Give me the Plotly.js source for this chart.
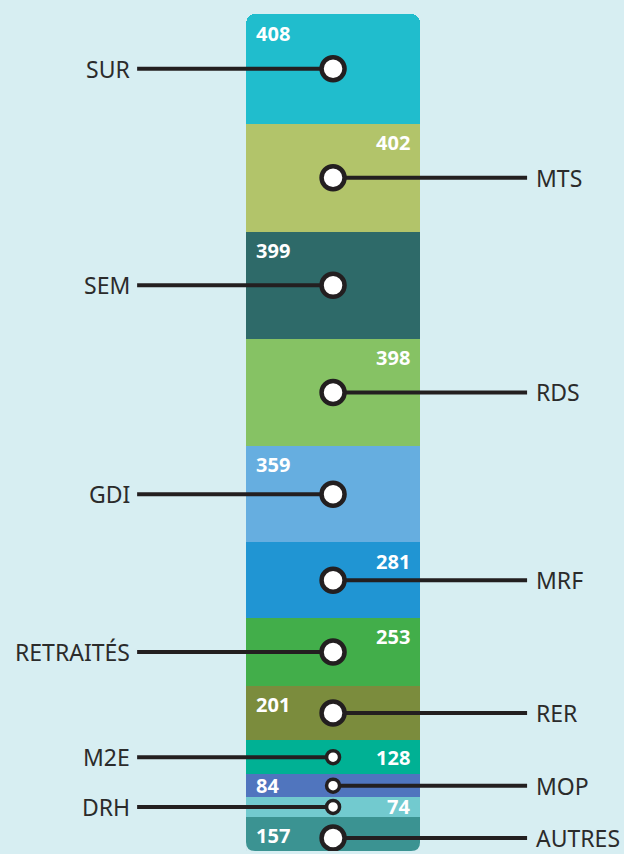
<!DOCTYPE html>
<html>
<head>
<meta charset="utf-8">
<script src="https://cdn.plot.ly/plotly-3.0.1.min.js"></script>
<style>
html,body{margin:0;padding:0;background:#d7eef2;}
#chart{width:624px;height:854px;}
</style>
</head>
<body>
<div id="chart"></div>
<script>
// ---- data (top to bottom) ----
const categories = ['SUR','MTS','SEM','RDS','GDI','MRF','RETRAITÉS','RER','M2E','MOP','DRH','AUTRES'];
const values     = [408, 402, 399, 398, 359, 281, 253, 201, 128, 84, 74, 157];
const colors     = ['#20bdcd','#b2c46a','#2e6a69','#86c264','#66aee0','#2095d3','#42ae4a','#7b8c3d','#00b194','#5075be','#72cacf','#3b9392'];
const nameSide   = ['left','right','left','right','left','right','left','right','left','right','left','right'];
const valueSide  = ['left','right','left','right','left','right','right','left','right','left','right','left'];

// ---- layout constants ----
const BG = '#d7eef2', INK = '#231f20';
const LINE_L = -1.126, LINE_R = 1.115, LBL_L = -1.156, LBL_R = 1.156;
const W = 624, H = 854, MT = 14, MB = 3, Y0 = 30;

const total = values.reduce((a,b)=>a+b,0);
const pxPerUnit = (H - MT - MB) / (total - Y0);
const traces = [];
const annotations = [];

// stacked from bottom: AUTRES first
const n = categories.length;
let base = 0;
const tops = new Array(n), mids = new Array(n);
for (let i = n-1; i >= 0; i--) {
  mids[i] = base + values[i]/2;
  tops[i] = base + values[i];
  base += values[i];
}
for (let i = n-1; i >= 0; i--) {
  traces.push({
    type:'bar', x:[0], y:[values[i]], width:[1], name:categories[i],
    marker:{color:colors[i], line:{width:0}, cornerradius:9},
    hoverinfo:'skip', showlegend:false
  });
}
// leader lines
for (let i = 0; i < n; i++) {
  traces.push({
    type:'scatter', mode:'lines', x:[0, nameSide[i]==='left'?LINE_L:LINE_R], y:[mids[i], mids[i]],
    line:{color:INK, width:4}, hoverinfo:'skip', showlegend:false
  });
}
// circles
const big = values.map(v=>v>=150);
traces.push({
  type:'scatter', mode:'markers', x:categories.map(()=>0), y:mids,
  marker:{size:big.map(b=>b?23:13), color:'#ffffff', opacity:1,
          line:{color:INK, width:big.map(b=>b?4.5:3.5)}},
  hoverinfo:'skip', showlegend:false
});

for (let i = 0; i < n; i++) {
  annotations.push({
    x: nameSide[i]==='left'?LBL_L:LBL_R, y: mids[i], xref:'x', yref:'y',
    text: categories[i], showarrow:false,
    xanchor: nameSide[i]==='left'?'right':'left', yanchor:'middle',
    font:{family:'Noto Sans, Open Sans, sans-serif', size:23, color:'#2b2b2b'}
  });
  const segPx = values[i]*pxPerUnit;
  annotations.push({
    x: valueSide[i]==='left'?-0.5:0.5, y: tops[i], xref:'x', yref:'y',
    text: String(values[i]), showarrow:false,
    xanchor: valueSide[i]==='left'?'left':'right', yanchor:'middle',
    xshift: valueSide[i]==='left'?8:-8, yshift: -Math.min(19, segPx/2),
    font:{family:'Noto Sans, sans-serif', size:20, color:'#ffffff', weight:700}
  });
}

const layout = {
  width:W, height:H,
  margin:{l:0, r:0, t:MT, b:MB},
  paper_bgcolor:BG, plot_bgcolor:BG,
  barmode:'stack', bargap:0,
  showlegend:false,
  xaxis:{range:[-1.914, 1.672], visible:false, fixedrange:true},
  yaxis:{range:[Y0, total], visible:false, fixedrange:true},
  annotations:annotations,
  shapes:[
    {type:'path', xref:'x', yref:'paper', xsizemode:'pixel', ysizemode:'pixel', xanchor:-0.5, yanchor:0,
     path:'M0,0 L0,9 Q0,0 9,0 Z', fillcolor:BG, line:{width:0}, layer:'above'},
    {type:'path', xref:'x', yref:'paper', xsizemode:'pixel', ysizemode:'pixel', xanchor:0.5, yanchor:0,
     path:'M0,0 L0,9 Q0,0 -9,0 Z', fillcolor:BG, line:{width:0}, layer:'above'}
  ]
};
Plotly.newPlot('chart', traces, layout, {staticPlot:true, displayModeBar:false});
</script>
</body>
</html>
